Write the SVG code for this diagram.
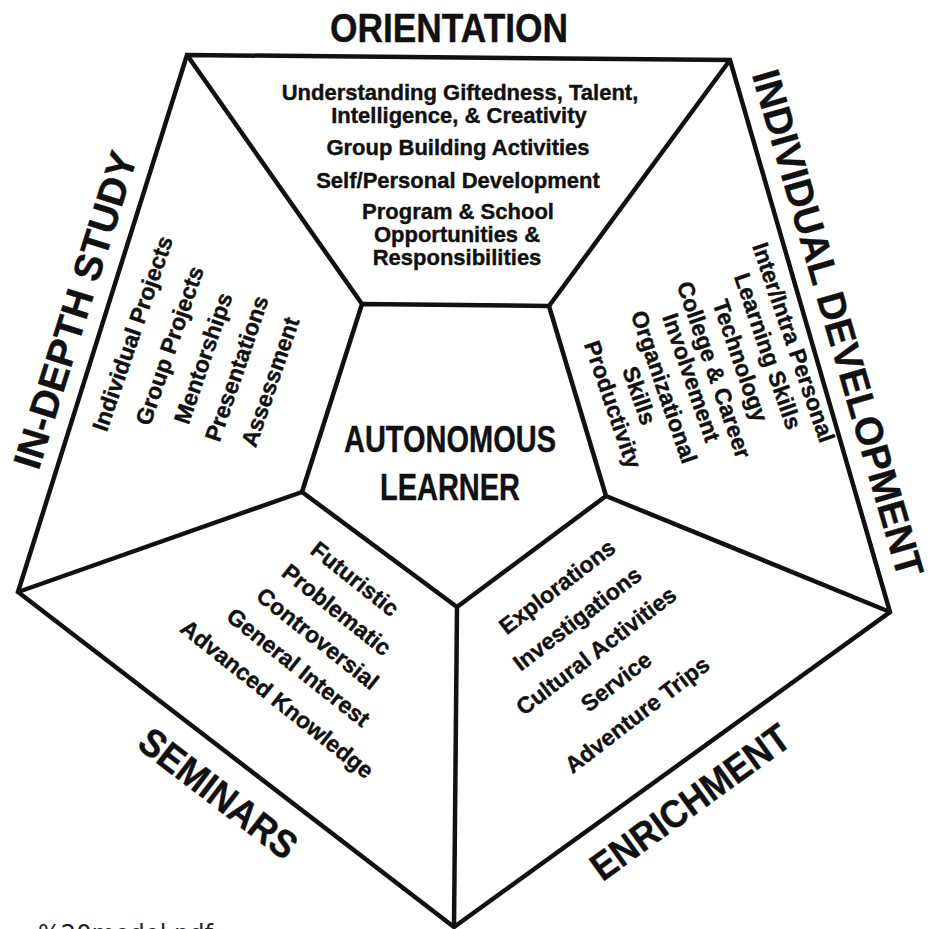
<svg xmlns="http://www.w3.org/2000/svg" width="943" height="929" viewBox="0 0 943 929">
<style>
.t{font-family:"Liberation Sans",Arial,Helvetica,sans-serif;font-weight:bold;fill:#111;stroke:#111;stroke-width:0.4;text-anchor:middle}
.head{font-size:40px}
.side{font-size:39px}
.core{font-size:36px}
.oi{font-size:22px}
.it{font-size:23px}
.note{font-family:"DejaVu Sans",sans-serif;font-size:24px;fill:#222}
</style>
<rect width="943" height="929" fill="#ffffff"/>
<g id="connectors" stroke="#111" stroke-width="4.5" fill="none" stroke-linejoin="miter">
  <polygon points="187,55 730,60 890,612 454,927 18,592"/>
  <polygon points="362,304 549,306 606,496 457,607 302,492"/>
  <line x1="187" y1="55" x2="362" y2="304"/>
  <line x1="730" y1="60" x2="549" y2="306"/>
  <line x1="890" y1="612" x2="606" y2="496"/>
  <line x1="454" y1="927" x2="457" y2="607"/>
  <line x1="18" y1="592" x2="302" y2="492"/>
</g>
<g id="orientation">
  <text class="t head" x="449" y="42" textLength="238" lengthAdjust="spacingAndGlyphs">ORIENTATION</text>
  <text class="t oi" x="460" y="100">Understanding Giftedness, Talent,</text>
  <text class="t oi" x="459" y="123">Intelligence, &amp; Creativity</text>
  <text class="t oi" x="458" y="155">Group Building Activities</text>
  <text class="t oi" x="458" y="188">Self/Personal Development</text>
  <text class="t oi" x="458" y="219">Program &amp; School</text>
  <text class="t oi" x="457" y="242">Opportunities &amp;</text>
  <text class="t oi" x="457" y="265">Responsibilities</text>
</g>
<g id="individual-development">
  <text class="t side" transform="translate(825,327) rotate(73.8)" textLength="526" lengthAdjust="spacingAndGlyphs">INDIVIDUAL DEVELOPMENT</text>
  <g transform="translate(786,345) rotate(71)">
    <text class="t it" x="0" y="0">Inter/Intra Personal</text>
    <text class="t it" x="0" y="27">Learning Skills</text>
    <text class="t it" x="0" y="56">Technology</text>
    <text class="t it" x="0" y="84">College &amp; Career</text>
    <text class="t it" x="0" y="108">Involvement</text>
    <text class="t it" x="0" y="137">Organizational</text>
    <text class="t it" x="0" y="163">Skills</text>
    <text class="t it" x="0" y="191">Productivity</text>
  </g>
</g>
<g id="enrichment">
  <text class="t side" transform="translate(698,813) rotate(-35.9)" textLength="236" lengthAdjust="spacingAndGlyphs">ENRICHMENT</text>
  <g transform="translate(562,593) rotate(-37.5)">
    <text class="t it" x="0" y="0">Explorations</text>
    <text class="t it" x="-3.6" y="37.6">Investigations</text>
    <text class="t it" x="-8.1" y="74.6">Cultural Activities</text>
    <text class="t it" x="-11.1" y="111.2">Service</text>
    <text class="t it" x="-14.6" y="150.2">Adventure Trips</text>
  </g>
</g>
<g id="seminars">
  <text class="t side" transform="translate(210,804) rotate(37.6)" textLength="188" lengthAdjust="spacingAndGlyphs">SEMINARS</text>
  <g transform="translate(350,585) rotate(38.5)">
    <text class="t it" x="0" y="0">Futuristic</text>
    <text class="t it" x="5" y="35.5">Problematic</text>
    <text class="t it" x="8" y="70">Controversial</text>
    <text class="t it" x="11" y="104.5">General Interest</text>
    <text class="t it" x="14" y="142.5">Advanced Knowledge</text>
  </g>
</g>
<g id="in-depth-study">
  <text class="t side" transform="translate(88,314) rotate(-72.5)" textLength="330" lengthAdjust="spacingAndGlyphs">IN-DEPTH STUDY</text>
  <g transform="translate(140,336) rotate(-71)">
    <text class="t it" x="0" y="0">Individual Projects</text>
    <text class="t it" x="0.5" y="39">Group Projects</text>
    <text class="t it" x="-0.5" y="75">Mentorships</text>
    <text class="t it" x="0.8" y="110">Presentations</text>
    <text class="t it" x="-1" y="146">Assessment</text>
  </g>
</g>
<g id="autonomous-learner">
  <text class="t core" x="450" y="452" textLength="212" lengthAdjust="spacingAndGlyphs">AUTONOMOUS</text>
  <text class="t core" x="450" y="500" textLength="140" lengthAdjust="spacingAndGlyphs">LEARNER</text>
</g>
<text class="note" x="38" y="942" textLength="175" lengthAdjust="spacingAndGlyphs">%20model.pdf</text>
</svg>
